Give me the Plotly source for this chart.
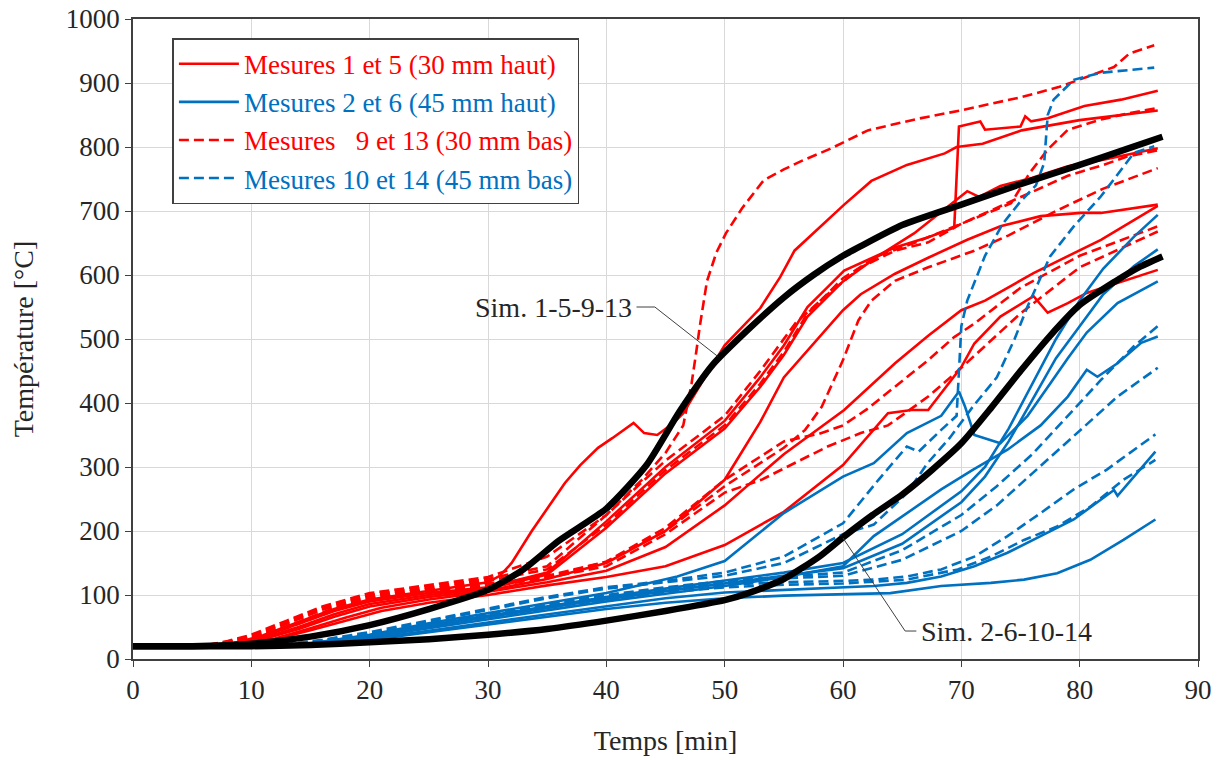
import plotly.graph_objects as go

# ---------------- data (time [min], temperature [°C]) ----------------
# Red solid: Mesures 1 et 5 (30 mm haut)
RS1 = [(0,20),(7,21),(9,26),(11,35),(14,55),(17,75),(20,90),(25,103),(30,112),(35,135),(40,215),(45,300),(50,372),(53,440),(55,490),(57,550),(58.7,581),(60.1,607),(64.4,643),(67.2,659),(69.4,674),(69.6,760),(69.8,832),(71.6,840),(72,827),(75,832),(75.4,848),(75.9,840),(77.3,845),(80.4,864),(83.5,874),(86.6,888)]
RS2 = [(0,20),(7,21),(9,27),(11,37),(14,58),(17,78),(20,93),(25,107),(30,120),(31,130),(32,150),(33.7,200),(35,235),(36.5,275),(37.8,303),(39.3,330),(40.5,345),(42.3,369),(43.2,353),(44.3,350),(45.7,369),(46.5,384),(48,430),(50,490),(53,548),(54.7,597),(55.9,638),(57.5,665),(60.1,710),(62.4,747),(65.4,772),(68.6,790),(69.6,800),(71.8,805),(75.1,826),(80,842),(86.6,857)]
RS3 = [(0,20),(7,20),(9,25),(11,33),(14,50),(17,70),(20,86),(25,100),(30,110),(35,132),(40,205),(45,290),(50,360),(53,425),(55,475),(57,535),(60,590),(63,630),(66,665),(68,695),(70.5,731),(71.5,722),(73.3,739),(76,752),(79,770),(82,780),(86.6,798)]
RS4 = [(0,20),(7,20),(9,24),(11,31),(14,47),(17,66),(20,82),(25,97),(30,107),(35,125),(40,150),(45,200),(50,280),(53,370),(55,440),(58.7,518),(60,545),(61.5,570),(64.4,602),(67.2,627),(70.5,655),(73.3,676),(76.7,692),(80.1,697),(81.8,697),(86.6,710)]
RS5 = [(0,20),(8,20),(10,24),(12,31),(15,45),(18,60),(21,75),(25,88),(30,100),(35,115),(40,128),(45,145),(50,178),(55,230),(60,303),(63.8,384),(65.8,389),(67.2,389),(70,456),(71.1,493),(73.3,535),(76.1,567),(77.3,541),(79,556),(80.6,572),(86.6,608)]
RS6 = [(0,20),(8,20),(10,25),(12,32),(15,48),(18,65),(21,80),(25,93),(30,105),(35,120),(40,138),(45,175),(50,240),(55,320),(60.1,389),(64.4,462),(67.2,505),(70,545),(72,560),(76.1,603),(81.8,655),(86.6,708)]

# Red dashed: Mesures 9 et 13 (30 mm bas)
RD1 = [(0,20),(6,21),(8,28),(10,38),(13,60),(16,82),(20,103),(25,115),(30,128),(35,160),(40,225),(43,280),(45,322),(46.5,365),(47.2,430),(47.6,480),(47.9,520),(48.5,590),(49.3,635),(50.1,665),(51.5,705),(53.3,748),(55,765),(56.6,779),(58.9,797),(62.1,826),(66.3,844),(69.9,857),(75.1,878),(78.3,894),(82.9,925),(84.2,946),(86.3,959)]
RD2 = [(0,20),(6,21),(8,27),(10,36),(13,57),(16,80),(20,100),(25,112),(30,125),(35,145),(40,225),(45,310),(50,380),(53,450),(55,500),(56,525),(58.7,570),(61.5,612),(64.4,638),(67.2,651),(70,680),(73,705),(76,730),(79,755),(82,772),(84,785),(86.6,795)]
RD3 = [(0,20),(6,20),(8,26),(10,34),(13,55),(16,77),(20,98),(25,110),(30,122),(35,140),(40,210),(45,295),(50,365),(53,430),(55,480),(57,540),(60,595),(63,630),(66,650),(70,680),(72,695),(74.2,712),(75.8,760),(77.3,796),(79,827),(81.8,843),(84,852),(86.6,861)]
RD4 = [(0,20),(7,21),(9,28),(11,38),(14,58),(17,80),(20,95),(25,108),(30,118),(35,128),(40,152),(45,200),(50,270),(55,330),(56.8,358),(58.2,394),(60,467),(61.3,529),(62.4,560),(64.4,591),(67.2,612),(71.1,638),(74,662),(78,700),(82,735),(86.6,767)]
RD5 = [(0,20),(7,21),(9,27),(11,37),(14,57),(17,78),(20,93),(25,106),(30,115),(35,130),(40,152),(45,205),(50,280),(55,340),(58,352),(60,365),(62,390),(65,435),(67.2,467),(69.4,503),(71.1,524),(75,580),(80,630),(86.6,676)]
RD6 = [(0,20),(7,20),(9,26),(11,35),(14,55),(17,76),(20,92),(25,104),(30,113),(35,127),(40,145),(45,195),(50,260),(53.1,280),(58.7,332),(61.5,353),(63.8,365),(67.2,410),(70,455),(75,540),(80,612),(86.6,668)]

# Blue solid: Mesures 2 et 6 (45 mm haut)
BS1 = [(0,20),(12,20),(14,22),(17,30),(20,38),(25,56),(30,72),(35,88),(40,103),(46,129),(50,153),(55,228),(60,285),(62.6,306),(65.4,353),(68.3,380),(69.8,418),(70.3,395),(71.1,350),(73.3,337),(75.6,380),(77.5,430),(79,470),(80.6,510),(83.2,556),(86.6,590)]
BS2 = [(0,20),(12,20),(14,22),(17,29),(20,37),(25,53),(30,68),(35,83),(40,97),(45,110),(50,122),(55,135),(60,150),(65,195),(70,262),(72,300),(74,360),(76,430),(78,500),(80,560),(82,610),(84.6,660),(86.6,694)]
BS3 = [(0,20),(12,20),(14,21),(17,28),(20,36),(25,51),(30,65),(35,80),(40,94),(45,106),(50,118),(55,130),(60,142),(65,180),(70,245),(72,285),(74,340),(76,405),(78,470),(80,520),(82,570),(84.6,614),(86.6,640)]
BS4 = [(0,20),(12,20),(14,21),(17,27),(20,34),(25,48),(30,62),(35,76),(40,90),(45,102),(50,114),(55,128),(60,145),(62.6,192),(65.4,228),(68.3,265),(71,296),(73.9,327),(76.7,365),(79,410),(80.6,452),(81.5,441),(83.2,462),(85.2,494),(86.6,504)]
BS5 = [(0,20),(13,20),(15,21),(18,27),(21,34),(25,44),(30,57),(35,70),(40,83),(45,95),(50,104),(55,108),(60,111),(62.6,114),(65.4,119),(68.3,129),(71.1,145),(73.9,166),(76.7,192),(79.5,218),(82.9,264),(83.2,255),(86.4,324)]
BS6 = [(0,20),(13,20),(15,21),(18,26),(21,32),(25,42),(30,54),(35,66),(40,78),(45,88),(50,95),(55,99),(60,101),(64,103),(68.3,114),(72.5,119),(75.3,124),(78.1,134),(80.9,155),(83.7,186),(86.4,218)]

# Blue dashed: Mesures 10 et 14 (45 mm bas)
BD1 = [(0,20),(11,20),(13,23),(16,30),(20,42),(25,60),(30,78),(35,97),(40,112),(45,122),(50,135),(55,160),(60,212),(63,280),(65.4,332),(66.4,324),(68.3,358),(69.6,380),(69.8,450),(70,520),(70.5,560),(72,630),(73.5,680),(75,715),(76.3,740),(77,775),(77.3,850),(77.8,874),(79.5,905),(81.8,916),(86.3,924)]
BD2 = [(0,20),(11,20),(13,22),(16,29),(20,40),(25,58),(30,76),(35,95),(40,110),(45,120),(50,130),(55,150),(60,195),(62.6,210),(65.4,259),(67.1,305),(69,345),(71,395),(73,440),(74.5,500),(75.6,551),(77.5,629),(79.5,676),(81.8,723),(82.9,749),(84.6,791),(86.3,801)]
BD3 = [(0,20),(12,20),(14,21),(17,27),(20,35),(25,50),(30,66),(35,82),(40,96),(45,108),(50,116),(55,120),(60,122),(62.6,124),(65.4,129),(68.3,140),(71.1,160),(73.9,192),(76.7,228),(79.5,265),(82.3,296),(86.4,351)]
BD4 = [(0,20),(12,20),(14,21),(17,27),(20,35),(25,50),(30,65),(35,80),(40,93),(45,104),(50,112),(55,116),(60,118),(65.4,124),(69.7,140),(72.5,160),(75.3,186),(78.1,207),(80.9,238),(83.7,280),(86.4,311)]
BD5 = [(0,20),(12,20),(14,22),(17,29),(20,37),(25,54),(30,70),(35,86),(40,100),(45,112),(50,122),(55,128),(60,135),(65,170),(70,225),(73,270),(76,320),(79,380),(81.8,436),(84.6,489),(86.6,520)]
BD6 = [(0,20),(12,20),(14,22),(17,28),(20,36),(25,52),(30,68),(35,84),(40,98),(45,110),(50,120),(55,126),(60,130),(65,155),(70,200),(73,240),(76,290),(79,340),(83.2,410),(86.6,455)]

# Simulations
SIM1 = [(0,20),(5,20),(10,24),(15,35),(20,53),(25,78),(30,108),(33,140),(36,185),(40,235),(43.4,303),(46.2,387),(49,460),(52,515),(55,565),(57.5,600),(60,630),(61.5,645),(65,678),(70,710),(75,742),(80,772),(84,797),(87,816)]
SIM2 = [(0,20),(10,20),(15,22),(20,26),(25,31),(30,38),(35,47),(40,60),(45,75),(50,92),(52,103),(55,125),(58,160),(60,190),(62.5,225),(65,257),(67.5,295),(70,337),(72.5,392),(75,450),(77.5,505),(80,553),(83,590),(85,612),(87,629)]

LEGEND_NAMES = ["Mesures 1 et 5 (30 mm haut)", "Mesures 2 et 6 (45 mm haut)",
                "Mesures\u00a0\u00a0 9 et 13 (30 mm bas)", "Mesures 10 et 14 (45 mm bas)"]
SIM_LABELS = ["Sim. 1-5-9-13", "Sim. 2-6-10-14"]

RED = "#FF0000"
BLUE = "#0070C0"
FONT = "Liberation Serif"
TXT = "#262626"
DASH = "10px,5px"

groups = [
    (LEGEND_NAMES[0], RED, "solid", [RS1, RS2, RS3, RS4, RS5, RS6], 1),
    (LEGEND_NAMES[2], RED, DASH, [RD1, RD2, RD3, RD4, RD5, RD6], 3),
    (LEGEND_NAMES[1], BLUE, "solid", [BS1, BS2, BS3, BS4, BS5, BS6], 2),
    (LEGEND_NAMES[3], BLUE, DASH, [BD1, BD2, BD3, BD4, BD5, BD6], 4),
]

fig = go.Figure()
for name, color, dash, curves, rank in groups:
    for i, c in enumerate(curves):
        fig.add_trace(go.Scatter(
            x=[p[0] for p in c], y=[p[1] for p in c], mode="lines",
            line=dict(color=color, width=2.6, dash=dash),
            name=f"<span style='color:{color}'>{name}</span>",
            legendgroup=name, showlegend=(i == 0), legendrank=rank,
            hoverinfo="skip"))

for c in (SIM1, SIM2):
    fig.add_trace(go.Scatter(
        x=[p[0] for p in c], y=[p[1] for p in c], mode="lines",
        line=dict(color="black", width=6.5, shape="spline", smoothing=0.6),
        showlegend=False, hoverinfo="skip"))

# leader lines for the simulation labels
fig.add_shape(type="path", xref="x", yref="y",
              path="M 42.55 550 L 44.1 550 L 49.4 473",
              line=dict(color="#404040", width=1))
fig.add_shape(type="path", xref="x", yref="y",
              path="M 66.2 43.7 L 65.25 43.7 L 60.0 189",
              line=dict(color="#404040", width=1))
fig.add_annotation(x=42.3, y=550, xref="x", yref="y", text=SIM_LABELS[0],
                   showarrow=False, xanchor="right", yanchor="middle",
                   font=dict(family=FONT, size=28, color=TXT))
fig.add_annotation(x=66.4, y=43.7, xref="x", yref="y", text=SIM_LABELS[1],
                   showarrow=False, xanchor="left", yanchor="middle",
                   font=dict(family=FONT, size=28, color=TXT))

axis_common = dict(showgrid=True, gridcolor="#D9D9D9", gridwidth=1,
                   showline=True, linecolor="#404040", linewidth=1.5, mirror=True,
                   ticks="outside", ticklen=6, tickcolor="#404040", tickwidth=1.2,
                   zeroline=False, automargin=False, ticklabeloverflow="allow",
                   tickfont=dict(family=FONT, size=27, color=TXT))

fig.update_xaxes(range=[0, 90], dtick=10, tick0=0,
                 title=dict(text="Temps [min]", font=dict(family=FONT, size=28, color=TXT), standoff=26),
                 **axis_common)
fig.update_yaxes(range=[0, 1000], dtick=100, tick0=0,
                 title=dict(text="Température [°C]", font=dict(family=FONT, size=28, color=TXT), standoff=34),
                 **axis_common)

fig.update_layout(
    width=1213, height=752,
    margin=dict(l=125, r=23, t=11, b=101),
    paper_bgcolor="white", plot_bgcolor="white",
    font=dict(family=FONT, size=27, color=TXT),
    legend=dict(x=0.037, y=0.97, xanchor="left", yanchor="top",
                bgcolor="white", bordercolor="#404040", borderwidth=1.5,
                font=dict(family=FONT, size=27), itemwidth=60,
                tracegroupgap=0, traceorder="normal"),
)

fig.write_html("out.html")
